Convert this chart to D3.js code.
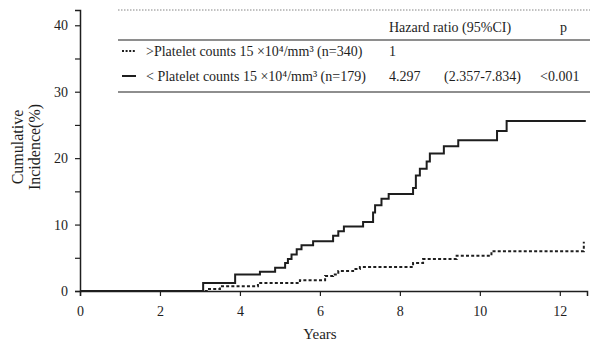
<!DOCTYPE html>
<html>
<head>
<meta charset="utf-8">
<script src="https://cdn.jsdelivr.net/npm/d3@7/dist/d3.min.js"></script>
<style>
  html, body { margin: 0; padding: 0; background: #fff; }
  svg { display: block; font-family: "Liberation Serif", "DejaVu Serif", serif; }
</style>
</head>
<body>
<svg id="chart" width="592" height="343"></svg>
<script>
// Cumulative incidence step curves (years, %)
const lowTimes  = [0, 3.08, 3.88, 4.5, 4.88, 5.13, 5.2, 5.29, 5.42, 5.54, 5.83, 6.33, 6.46, 6.6, 7.08, 7.33, 7.38, 7.54, 7.72, 8.33, 8.4, 8.5, 8.67, 8.75, 9.1, 9.46, 10.43, 10.67, 12.65];
const lowValues = [0, 1.2, 2.5, 2.9, 3.5, 4.2, 4.8, 5.5, 6.3, 6.9, 7.5, 8.3, 9.0, 9.7, 10.4, 11.8, 12.9, 13.9, 14.6, 15.5, 17.4, 18.4, 19.5, 20.7, 21.8, 22.7, 24.1, 25.6, 25.6];

const highTimes  = [0, 3.17, 3.5, 4.45, 5.5, 6.13, 6.33, 6.46, 6.83, 7.0, 8.33, 8.58, 9.42, 10.29, 12.6];
const highValues = [0, 0.3, 0.7, 1.2, 1.6, 2.25, 2.5, 3.0, 3.3, 3.6, 4.2, 4.8, 5.3, 6.0, 7.4];

const xTicks = [0, 2, 4, 6, 8, 10, 12];
const yTicks = [0, 5, 10, 15, 20, 25, 30, 35, 40];
const yLabelled = [0, 10, 20, 30, 40];

// Hazard ratio table
const groupLabels = [">Platelet counts 15 ×10⁴/mm³ (n=340)", "< Platelet counts 15 ×10⁴/mm³ (n=179)"];
const hazardRatios = ["1", "4.297"];
const hazardCIs = ["", "(2.357-7.834)"];
const pValues = ["", "<0.001"];

const ink = "#1e1e1e";
const svg = d3.select("#chart");

const x = d3.scaleLinear().domain([0, 12.68]).range([80, 587]);
const y = d3.scaleLinear().domain([0, 42.3]).range([291, 10]);

// Axes
const yAxis = d3.axisLeft(y).tickValues(yTicks).tickSize(5).tickPadding(7)
  .tickFormat(d => yLabelled.includes(d) ? d : "");
const gy = svg.append("g").attr("transform", `translate(${x(0)},0)`).call(yAxis);

const xAxis = d3.axisBottom(x).tickValues(xTicks).tickSize(5).tickPadding(10);
const gx = svg.append("g").attr("transform", `translate(0,${y(0)})`).call(xAxis);

[gx, gy].forEach(g => {
  g.select(".domain").attr("stroke", ink).attr("stroke-width", 1.5);
  g.selectAll(".tick line").attr("stroke", ink).attr("stroke-width", 1.2);
  g.selectAll(".tick text").attr("fill", ink).style("font-size", "14px")
    .style("font-family", "'Liberation Serif', serif");
});

// Axis titles
svg.append("text").attr("x", x(6)).attr("y", 339).attr("text-anchor", "middle")
  .attr("fill", ink).style("font-size", "15px").text("Years");

const yTitle = svg.append("text").attr("transform", "translate(0,147) rotate(-90)")
  .attr("text-anchor", "middle").attr("fill", ink).style("font-size", "16px");
yTitle.append("tspan").attr("x", 0).attr("y", 23).text("Cumulative");
yTitle.append("tspan").attr("x", 0).attr("y", 40).text("Incidence(%)");

// Curves
const line = d3.line().x(d => x(d[0])).y(d => y(d[1])).curve(d3.curveStepAfter);
const lowPts = lowTimes.map((t, i) => [t, lowValues[i]]);
const highPts = highTimes.map((t, i) => [t, highValues[i]]);

svg.append("path").datum(highPts).attr("d", line).attr("fill", "none")
  .attr("stroke", ink).attr("stroke-width", 2).attr("stroke-dasharray", "3,2.2");
svg.append("path").datum(lowPts).attr("d", line).attr("fill", "none")
  .attr("stroke", ink).attr("stroke-width", 2);

// Table
const tbl = svg.append("g");
tbl.append("line").attr("x1", 118).attr("x2", 590).attr("y1", 10).attr("y2", 10)
  .attr("stroke", "#666").attr("stroke-width", 0.8).attr("stroke-dasharray", "1.5,1.5");
tbl.append("line").attr("x1", 118).attr("x2", 590).attr("y1", 40).attr("y2", 40)
  .attr("stroke", ink).attr("stroke-width", 1.2);
tbl.append("line").attr("x1", 118).attr("x2", 590).attr("y1", 92).attr("y2", 92)
  .attr("stroke", ink).attr("stroke-width", 1.2);

tbl.append("text").attr("x", 389).attr("y", 32).attr("fill", ink)
  .style("font-size", "14px").text("Hazard ratio (95%CI)");
tbl.append("text").attr("x", 560).attr("y", 32).attr("fill", ink)
  .style("font-size", "14px").text("p");

const rowY = [51, 76];
rowY.forEach((ry, i) => {
  tbl.append("line").attr("x1", 122).attr("x2", 136).attr("y1", ry).attr("y2", ry)
    .attr("stroke", ink).attr("stroke-width", 2)
    .attr("stroke-dasharray", i === 0 ? "2,1.6" : null);
  tbl.append("text").attr("x", 146).attr("y", ry + 5).attr("fill", ink)
    .style("font-size", "14px").text(groupLabels[i]);
  tbl.append("text").attr("x", 389).attr("y", ry + 5).attr("fill", ink)
    .style("font-size", "14px").text(hazardRatios[i]);
  tbl.append("text").attr("x", 444).attr("y", ry + 5).attr("fill", ink)
    .style("font-size", "14px").text(hazardCIs[i]);
  tbl.append("text").attr("x", 540).attr("y", ry + 5).attr("fill", ink)
    .style("font-size", "14px").text(pValues[i]);
});
</script>
</body>
</html>
